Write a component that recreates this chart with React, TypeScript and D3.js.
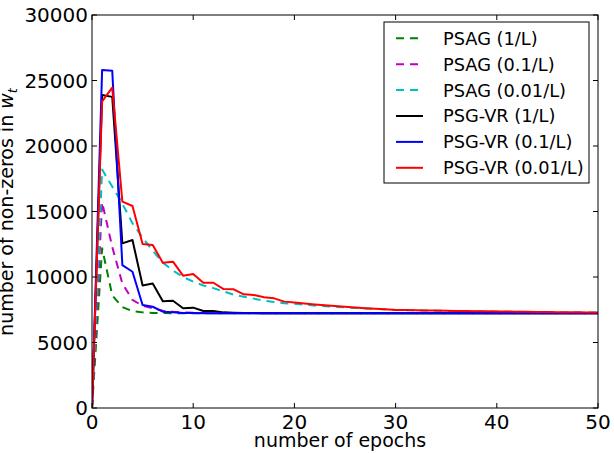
import React from "react";
import * as d3 from "d3";

const epochs: number[] = d3.range(0, 51);

const psag1: number[] = [0, 12200, 8600, 7700, 7400, 7300, 7260, 7245, 7240, 7235, 7232, 7230, 7230, 7230, 7230, 7230, 7230, 7230, 7230, 7230, 7230, 7230, 7230, 7230, 7230, 7230, 7230, 7230, 7230, 7230, 7230, 7230, 7230, 7230, 7230, 7230, 7230, 7230, 7230, 7230, 7230, 7230, 7230, 7230, 7230, 7230, 7230, 7230, 7230, 7230, 7230];
const psag01: number[] = [0, 15700, 12300, 9500, 8250, 7800, 7620, 7420, 7350, 7300, 7270, 7250, 7240, 7232, 7230, 7230, 7230, 7230, 7230, 7230, 7230, 7230, 7230, 7230, 7230, 7230, 7230, 7230, 7230, 7230, 7230, 7230, 7230, 7230, 7230, 7230, 7230, 7230, 7230, 7230, 7230, 7230, 7230, 7230, 7230, 7230, 7230, 7230, 7230, 7230, 7230];
const psag001: number[] = [0, 18200, 16900, 15600, 14100, 13000, 12000, 11100, 10500, 10000, 9650, 9350, 9150, 8900, 8650, 8500, 8350, 8200, 8100, 8000, 7950, 7880, 7820, 7770, 7720, 7680, 7640, 7600, 7560, 7520, 7480, 7465, 7455, 7440, 7430, 7410, 7400, 7390, 7380, 7370, 7360, 7350, 7340, 7330, 7320, 7310, 7300, 7295, 7290, 7285, 7280];
const vr1: number[] = [0, 23900, 23750, 12570, 12820, 9350, 9500, 8140, 8190, 7610, 7660, 7410, 7400, 7300, 7280, 7260, 7250, 7240, 7235, 7230, 7230, 7230, 7230, 7230, 7230, 7230, 7230, 7230, 7230, 7230, 7230, 7230, 7230, 7230, 7230, 7230, 7230, 7230, 7230, 7230, 7230, 7230, 7230, 7230, 7230, 7230, 7230, 7230, 7230, 7230, 7230];
const vr01: number[] = [0, 25800, 25750, 10900, 10400, 7860, 7730, 7350, 7300, 7260, 7250, 7240, 7232, 7230, 7230, 7230, 7230, 7230, 7230, 7230, 7230, 7230, 7230, 7230, 7230, 7230, 7230, 7230, 7230, 7230, 7230, 7230, 7230, 7230, 7230, 7230, 7230, 7230, 7230, 7230, 7230, 7230, 7230, 7230, 7230, 7230, 7230, 7230, 7230, 7230, 7230];
const vr001: number[] = [0, 23400, 24450, 15750, 15420, 12520, 12440, 11090, 11170, 10100, 10230, 9560, 9560, 9080, 9060, 8680, 8630, 8450, 8370, 8120, 8050, 7970, 7900, 7840, 7780, 7720, 7670, 7620, 7580, 7530, 7490, 7480, 7470, 7450, 7440, 7420, 7410, 7400, 7390, 7380, 7370, 7360, 7350, 7340, 7330, 7320, 7310, 7305, 7300, 7295, 7290];

const seriesNames: string[] = ["PSAG (1/L)", "PSAG (0.1/L)", "PSAG (0.01/L)", "PSG-VR (1/L)", "PSG-VR (0.1/L)", "PSG-VR (0.01/L)"];
const seriesValues: number[][] = [psag1, psag01, psag001, vr1, vr01, vr001];
const seriesColors: string[] = ["#008000", "#bf00bf", "#00bfbf", "#000000", "#0000ff", "#ff0000"];
const seriesDashed: boolean[] = [true, true, true, false, false, false];

const xTicks: number[] = [0, 10, 20, 30, 40, 50];
const yTicks: number[] = [0, 5000, 10000, 15000, 20000, 25000, 30000];

const W = 614;
const H = 453;
const L = 92;
const R = 598;
const T = 15;
const B = 408;
const FONT = "'DejaVu Sans', sans-serif";

export default function App() {
  const x = d3.scaleLinear().domain([0, 50]).range([L, R]);
  const y = d3.scaleLinear().domain([0, 30000]).range([B, T]);
  const line = d3
    .line<[number, number]>()
    .x((d) => x(d[0]))
    .y((d) => y(d[1]));
  const tick = 5;

  const lgX = 384;
  const lgY = 22;
  const lgW = 205;
  const lgH = 161;
  const rowH = 25.9;

  return (
    <div style={{ position: "absolute", left: 0, top: 0 }}>
      <svg width={W} height={H} style={{ display: "block", background: "#fff" }}>
        <rect x={0} y={0} width={W} height={H} fill="#fff" />
        <defs>
          <clipPath id="plotclip">
            <rect x={L} y={T} width={R - L} height={B - T} />
          </clipPath>
        </defs>
        <g clipPath="url(#plotclip)">
          {seriesValues.map((vals, i) => (
            <path
              key={i}
              d={line(epochs.map((e, j) => [e, vals[j]] as [number, number])) || ""}
              fill="none"
              stroke={seriesColors[i]}
              strokeWidth={2}
              strokeDasharray={seriesDashed[i] ? "8,6" : undefined}
              strokeLinejoin="round"
            />
          ))}
        </g>
        {/* frame */}
        <rect x={L} y={T} width={R - L} height={B - T} fill="none" stroke="#000" strokeWidth={1} />
        {/* x ticks */}
        {xTicks.map((t) => (
          <g key={"x" + t}>
            <line x1={x(t)} x2={x(t)} y1={B} y2={B - tick} stroke="#000" />
            <line x1={x(t)} x2={x(t)} y1={T} y2={T + tick} stroke="#000" />
            <text x={x(t)} y={429} textAnchor="middle" fontFamily={FONT} fontSize={20} fill="#000">
              {t}
            </text>
          </g>
        ))}
        {/* y ticks */}
        {yTicks.map((t) => (
          <g key={"y" + t}>
            <line x1={L} x2={L + tick} y1={y(t)} y2={y(t)} stroke="#000" />
            <line x1={R} x2={R - tick} y1={y(t)} y2={y(t)} stroke="#000" />
            <text x={88} y={y(t)} dy="0.36em" textAnchor="end" fontFamily={FONT} fontSize={20} fill="#000">
              {t}
            </text>
          </g>
        ))}
        {/* axis labels */}
        <text x={(L + R) / 2 - 5} y={447} textAnchor="middle" fontFamily={FONT} fontSize={19} fill="#000">
          number of epochs
        </text>
        <text transform={`translate(13, 212) rotate(-90)`} textAnchor="middle" fontFamily={FONT} fontSize={19} fill="#000">
          number of non-zeros in{" "}
          <tspan fontStyle="italic">w</tspan>
          <tspan fontStyle="italic" fontSize={13} dy={4}>t</tspan>
        </text>
        {/* legend */}
        <rect x={lgX} y={lgY} width={lgW} height={lgH} fill="#fff" stroke="#000" strokeWidth={1} />
        {seriesNames.map((name, i) => {
          const cy = lgY + 16.3 + i * rowH;
          return (
            <g key={"lg" + i}>
              <line
                x1={396}
                x2={423}
                y1={cy}
                y2={cy}
                stroke={seriesColors[i]}
                strokeWidth={2}
                strokeDasharray={seriesDashed[i] ? "8,6" : undefined}
              />
              <text x={443} y={cy} dy="0.36em" fontFamily={FONT} fontSize={17.8} fill="#000">
                {name}
              </text>
            </g>
          );
        })}
      </svg>
    </div>
  );
}
